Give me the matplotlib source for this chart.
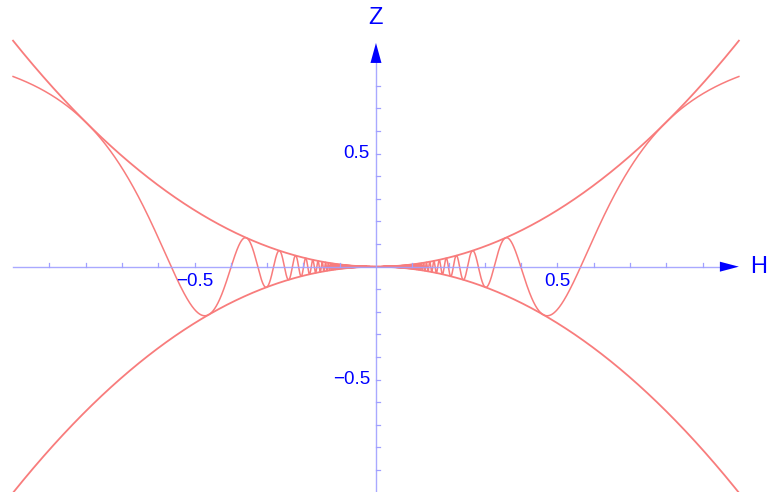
import numpy as np
import matplotlib
matplotlib.use("Agg")
import matplotlib.pyplot as plt

# Plot range and the three curves: z = H^2, z = -H^2, z = H^2 sin(1/H^2)
h_min, h_max = -1.0, 1.0
h = np.linspace(h_min, h_max, 400001)
h = h[h != 0]
upper = h ** 2
lower = -h ** 2
wave = h ** 2 * np.sin(1.0 / h ** 2)

# Axis ticks and labels
h_minor_ticks = [-0.9, -0.8, -0.7, -0.6, -0.5, -0.4, -0.3, -0.2, -0.1,
                 0.1, 0.2, 0.3, 0.4, 0.5, 0.6, 0.7, 0.8, 0.9]
z_minor_ticks = [-0.9, -0.8, -0.7, -0.6, -0.5, -0.4, -0.3, -0.2, -0.1,
                 0.1, 0.2, 0.3, 0.4, 0.5, 0.6, 0.7, 0.8]
h_labels = {-0.5: "\u22120.5", 0.5: "0.5"}
z_labels = {-0.5: "\u22120.5", 0.5: "0.5"}

curve_color = "#f87c7c"
axis_color = "#a0a0ff"
text_color = "#0000ff"
font = "Liberation Sans"

fig = plt.figure(figsize=(7.69, 4.92), dpi=100)
ax = fig.add_axes([0, 0, 1, 1])
ax.set_xlim(-1.036, 1.083)
ax.set_ylim(-0.997, 1.180)
ax.axis("off")

# unit conversion: pixels per data unit
px_x = 363.0
px_y = 226.0

# axes lines (drawn above the curves)
ax.plot([h_min, h_max - 19 / px_x], [0, 0], color=axis_color, lw=1.0,
        alpha=0.9, zorder=4)
ax.plot([0, 0], [-1.0, 0.99 - 19 / px_y], color=axis_color, lw=1.0,
        alpha=0.9, zorder=4)

# arrowheads
ax.fill([h_max, h_max - 19 / px_x, h_max - 19 / px_x],
        [0, 5 / px_y, -5 / px_y], color=text_color, lw=0, zorder=5)
ax.fill([0, 5.5 / px_x, -5.5 / px_x],
        [0.99, 0.99 - 20 / px_y, 0.99 - 20 / px_y], color=text_color, lw=0, zorder=5)

# ticks
for t in h_minor_ticks:
    ax.plot([t, t], [0, 4 / px_y], color=axis_color, lw=0.9, zorder=4)
for t in z_minor_ticks:
    ax.plot([0, 4 / px_x], [t, t], color=axis_color, lw=0.9, zorder=4)

# curves
ax.plot(h, upper, color=curve_color, lw=1.3, zorder=2)
ax.plot(h, lower, color=curve_color, lw=1.3, zorder=2)
ax.plot(h, wave, color=curve_color, lw=1.1, zorder=2)

# tick labels
for t, s in h_labels.items():
    ax.text(t, -15 / px_y, s, color=text_color,
            fontsize=13.5, family=font, ha="center", va="center", zorder=6)
for t, s in z_labels.items():
    ax.text(-6 / px_x, t, s, color=text_color, fontsize=13.5, family=font,
            ha="right", va="center", zorder=6)

# axis names
ax.text(h_max + 11 / px_x, 0, "H", color=text_color, fontsize=17, family=font,
        ha="left", va="center")
ax.text(0, 0.99 + 25 / px_y, "Z", color=text_color, fontsize=17, family=font,
        ha="center", va="center")

fig.savefig("out.png", dpi=100)
